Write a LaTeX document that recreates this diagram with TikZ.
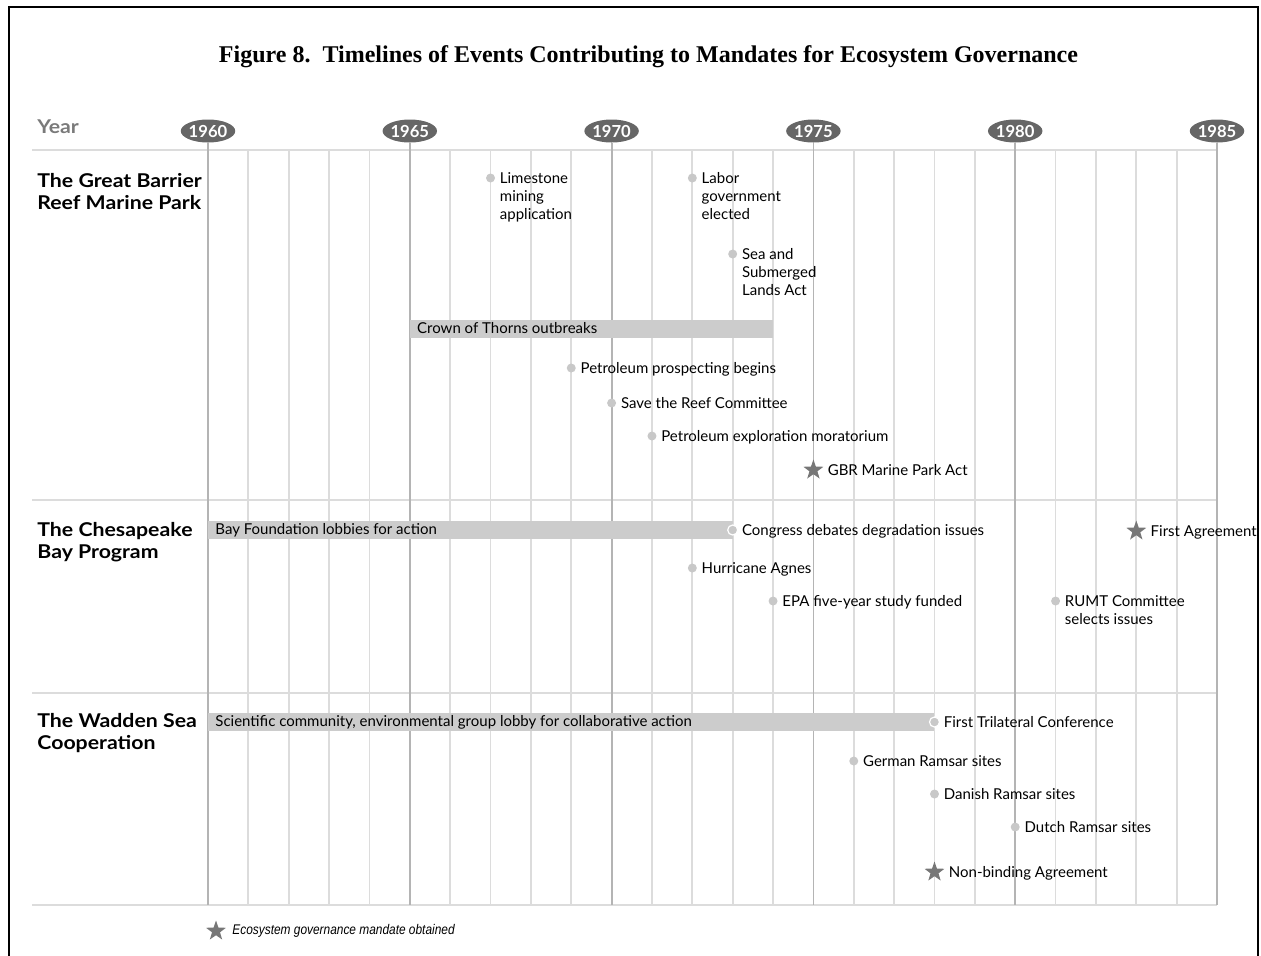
\documentclass[tikz,border=0pt]{standalone}
\usepackage{fontspec}
\setmainfont{Lato}
\newfontfamily\titlefont{Liberation Serif}
\newfontfamily\progfont[FakeStretch=1.12]{Lato}
\newfontfamily\notefont[FakeStretch=0.85]{Liberation Sans}
\usetikzlibrary{shapes.geometric}
\definecolor{gridminor}{HTML}{DCDCDC}
\definecolor{gridmajor}{HTML}{B4B4B4}
\definecolor{dotgray}{HTML}{C8C8C8}
\definecolor{bargray}{HTML}{CCCCCC}
\definecolor{stargray}{HTML}{777777}
\definecolor{yeargray}{HTML}{666666}
\definecolor{labelgray}{HTML}{7A7A7A}

% dot event: style, name, year, y, text
\newcommand\tlevent[5]{%
  \node[#1] (#2) at ({yx(#3)},#4) {};
  \node[evtext] (#2-text) at ([shift={(9,-5.5)}]#2.center) {#5};}
% mandate event (star): name, year, y, text
\newcommand\tlmandate[4]{%
  \node[mandate] (#1) at ({yx(#2)},#3) {};
  \node[evtext] (#1-text) at ([shift={(14,-5.5)}]#1.center) {#4};}

\begin{document}
\begin{tikzpicture}[x=0.5pt,y=-0.5pt,
  declare function={yx(\t)=208+(\t-1960)*40.36;},
  evdot/.style={circle,fill=dotgray,inner sep=0,minimum size=4.5pt},
  enddot/.style={circle,fill=dotgray,draw=white,line width=0.6pt,inner sep=0,minimum size=5pt},
  mandate/.style={star,star points=5,star point ratio=2.5,fill=stargray,inner sep=0,minimum size=10.5pt},
  evtext/.style={anchor=north west,inner sep=0,align=left,font=\fontsize{7.5}{9}\selectfont},
  bartext/.style={anchor=base west,inner sep=0,font=\fontsize{7.5}{9}\selectfont},
  program/.style={anchor=north west,inner sep=0,align=left,font=\progfont\bfseries\fontsize{9.5}{11}\selectfont},
  yearbadge/.style={ellipse,fill=yeargray,text=white,inner sep=0,minimum width=27pt,minimum height=11.5pt,font=\bfseries\fontsize{8.3}{9}\selectfont},
  minorline/.style={draw=gridminor,line width=0.9pt},
  majorline/.style={draw=gridmajor,line width=0.9pt},
]
\useasboundingbox (0,0) rectangle (1261,955);

% outer frame, open at the bottom
\draw[line width=0.8pt] (9,960) -- (9,7) -- (1258,7) -- (1258,960);

% title
\node[anchor=base,inner sep=0,font=\titlefont\bfseries\fontsize{12}{14}\selectfont] (title) at (648.5,62)
  {Figure 8.\ \ Timelines of Events Contributing to Mandates for Ecosystem Governance};

\node[anchor=base west,inner sep=0,text=labelgray,font=\progfont\bfseries\fontsize{9.5}{11}\selectfont] (yearhead) at (37,133) {Year};

% yearly grid
\foreach \k in {1,2,3,4,6,7,8,9,11,12,13,14,16,17,18,19,21,22,23,24}{
  \path[minorline] ({yx(1960+\k)},150) -- ({yx(1960+\k)},905);
}
% section rules
\foreach \yy in {150,500,693,905}{
  \path[minorline] (32,\yy) -- ({yx(1985)},\yy);
}
% five-year badges with their rules
\foreach \yr in {1960,1965,1970,1975,1980,1985}{
  \node[yearbadge] (y\yr) at ({yx(\yr)},131) {\yr};
  \path[majorline] (y\yr.south) -- (y\yr.south |- 0,905);
}

% section names
\node[program] (gbr) at (37,172.5) {The Great Barrier\\Reef Marine Park};
\node[program] (cbp) at (37,522) {The Chesapeake\\Bay Program};
\node[program] (wsc) at (37,713) {The Wadden Sea\\Cooperation};

% Great Barrier Reef
\fill[bargray] ({yx(1965)},320) rectangle ({yx(1974)},338);
\node[bartext] (cot) at ({yx(1965)+7},333.5) {Crown of Thorns outbreaks};
\tlevent{evdot}{lime}{1967}{178}{Limestone\\mining\\application}
\tlevent{evdot}{labor}{1972}{178}{Labor\\government\\elected}
\tlevent{evdot}{sea}{1973}{254}{Sea and\\Submerged\\Lands Act}
\tlevent{evdot}{petro}{1969}{368}{Petroleum prospecting begins}
\tlevent{evdot}{reef}{1970}{403}{Save the Reef Committee}
\tlevent{evdot}{mora}{1971}{436}{Petroleum exploration moratorium}
\tlmandate{gbract}{1975}{470}{GBR Marine Park Act}

% Chesapeake Bay
\fill[bargray] ({yx(1960)},521) rectangle ({yx(1973)},539);
\node[bartext] (bayf) at ({yx(1960)+7},534.5) {Bay Foundation lobbies for action};
\tlevent{enddot}{congress}{1973}{530}{Congress debates degradation issues}
\tlmandate{firstagr}{1983}{531}{First Agreement}
\tlevent{evdot}{agnes}{1972}{568}{Hurricane Agnes}
\tlevent{evdot}{epa}{1974}{601}{EPA five-year study funded}
\tlevent{evdot}{rumt}{1981}{601}{RUMT Committee\\selects issues}

% Wadden Sea
\fill[bargray] ({yx(1960)},713) rectangle ({yx(1978)},731);
\node[bartext] (sci) at ({yx(1960)+7},726.5) {Scientific community, environmental group lobby for collaborative action};
\tlevent{enddot}{trilat}{1978}{722}{First Trilateral Conference}
\tlevent{evdot}{german}{1976}{761}{German Ramsar sites}
\tlevent{evdot}{danish}{1978}{794}{Danish Ramsar sites}
\tlevent{evdot}{dutch}{1980}{827}{Dutch Ramsar sites}
\tlmandate{nonbind}{1978}{872}{Non-binding Agreement}

% legend
\node[mandate] (legstar) at (216,931) {};
\node[anchor=west,inner sep=0,font=\notefont\itshape\fontsize{7}{9}\selectfont] (legtext) at ([xshift=8pt]legstar.center) {Ecosystem governance mandate obtained};
\end{tikzpicture}
\end{document}
